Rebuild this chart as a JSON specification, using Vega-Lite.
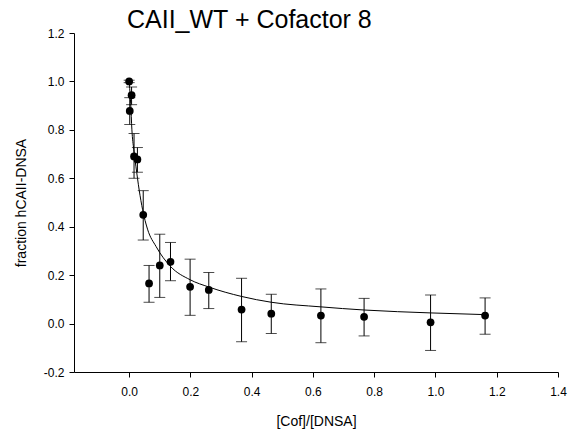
{
  "$schema": "https://vega.github.io/schema/vega-lite/v6.json",
  "autosize": "none",
  "width": 484,
  "height": 339,
  "padding": {"left": 74, "top": 33, "right": 13, "bottom": 65},
  "background": "white",
  "title": {
    "text": "CAII_WT + Cofactor 8",
    "anchor": "start",
    "frame": "group",
    "dx": 53,
    "offset": -31,
    "baseline": "bottom",
    "font": "Liberation Sans",
    "fontSize": 25,
    "fontWeight": "normal",
    "color": "black"
  },
  "config": {
    "view": {"stroke": null},
    "font": "Liberation Sans",
    "axis": {
      "grid": false,
      "domainColor": "black",
      "tickColor": "black",
      "labelColor": "black",
      "titleColor": "black",
      "labelFont": "Liberation Sans",
      "titleFont": "Liberation Sans",
      "labelFontSize": 12,
      "titleFontSize": 14,
      "titleFontWeight": "normal",
      "tickSize": 5,
      "labelFlush": false,
      "labelOverlap": false
    }
  },
  "datasets": {
    "pts": [
      {"x": 0.0, "y": 1.0, "lo": 0.995, "hi": 1.005},
      {"x": 0.008, "y": 0.943, "lo": 0.904, "hi": 0.977},
      {"x": 0.002, "y": 0.878, "lo": 0.822, "hi": 0.933},
      {"x": 0.016, "y": 0.69, "lo": 0.60, "hi": 0.785},
      {"x": 0.027, "y": 0.678, "lo": 0.625, "hi": 0.727},
      {"x": 0.046, "y": 0.449, "lo": 0.345, "hi": 0.549},
      {"x": 0.065, "y": 0.166, "lo": 0.088, "hi": 0.240},
      {"x": 0.100, "y": 0.240, "lo": 0.108, "hi": 0.369},
      {"x": 0.135, "y": 0.255, "lo": 0.177, "hi": 0.335},
      {"x": 0.199, "y": 0.152, "lo": 0.034, "hi": 0.266},
      {"x": 0.260, "y": 0.139, "lo": 0.062, "hi": 0.211},
      {"x": 0.367, "y": 0.058, "lo": -0.075, "hi": 0.187},
      {"x": 0.464, "y": 0.041, "lo": -0.041, "hi": 0.121},
      {"x": 0.626, "y": 0.033, "lo": -0.079, "hi": 0.143},
      {"x": 0.767, "y": 0.028, "lo": -0.051, "hi": 0.104},
      {"x": 0.984, "y": 0.005, "lo": -0.111, "hi": 0.118},
      {"x": 1.162, "y": 0.033, "lo": -0.044, "hi": 0.106}
    ],
    "fit": [
      {"x": 0.0, "y": 1.0},
      {"x": 0.005, "y": 0.91},
      {"x": 0.009, "y": 0.80},
      {"x": 0.015, "y": 0.72},
      {"x": 0.022, "y": 0.65},
      {"x": 0.033, "y": 0.55},
      {"x": 0.044, "y": 0.47},
      {"x": 0.06, "y": 0.39},
      {"x": 0.088, "y": 0.318},
      {"x": 0.135, "y": 0.236},
      {"x": 0.199, "y": 0.181},
      {"x": 0.26, "y": 0.151},
      {"x": 0.367, "y": 0.112},
      {"x": 0.464, "y": 0.088},
      {"x": 0.626, "y": 0.069},
      {"x": 0.767, "y": 0.056},
      {"x": 0.984, "y": 0.044},
      {"x": 1.162, "y": 0.037}
    ]
  },
  "encoding": {
    "x": {
      "field": "x",
      "type": "quantitative",
      "scale": {"domain": [-0.18, 1.4], "nice": false, "zero": false},
      "axis": {
        "title": "[Cof]/[DNSA]",
        "values": [0, 0.2, 0.4, 0.6, 0.8, 1.0, 1.2, 1.4],
        "format": ".1f",
        "labelPadding": 9,
        "titlePadding": 17
      }
    },
    "y": {
      "field": "y",
      "type": "quantitative",
      "scale": {"domain": [-0.2, 1.2], "nice": false, "zero": false},
      "axis": {
        "title": "fraction hCAII-DNSA",
        "values": [-0.2, 0, 0.2, 0.4, 0.6, 0.8, 1.0, 1.2],
        "labelExpr": "datum.value < 0 ? '-' + format(-datum.value, '.1f') : format(datum.value, '.1f')",
        "labelPadding": 5,
        "titlePadding": 15
      }
    }
  },
  "layer": [
    {
      "data": {"name": "fit"},
      "mark": {"type": "line", "color": "black", "strokeWidth": 1, "interpolate": "monotone"}
    },
    {
      "data": {"name": "pts"},
      "mark": {"type": "rule", "color": "black", "strokeWidth": 1},
      "encoding": {
        "y": {"field": "lo", "type": "quantitative"},
        "y2": {"field": "hi"}
      }
    },
    {
      "data": {"name": "pts"},
      "mark": {"type": "tick", "orient": "horizontal", "color": "black", "size": 11, "thickness": 1},
      "encoding": {"y": {"field": "lo", "type": "quantitative"}}
    },
    {
      "data": {"name": "pts"},
      "mark": {"type": "tick", "orient": "horizontal", "color": "black", "size": 11, "thickness": 1},
      "encoding": {"y": {"field": "hi", "type": "quantitative"}}
    },
    {
      "data": {"name": "pts"},
      "mark": {"type": "point", "filled": true, "color": "black", "size": 60, "opacity": 1}
    }
  ]
}
